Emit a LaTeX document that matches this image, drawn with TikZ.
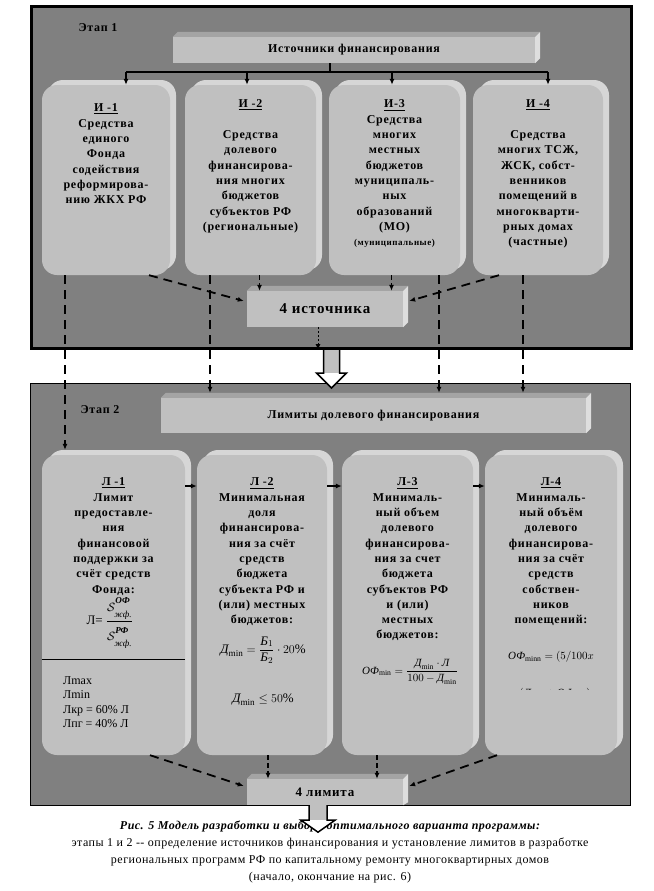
\documentclass[tikz,border=0pt]{standalone}
\usepackage{amsmath,amssymb}
\usepackage{fontspec}
\setmainfont{Liberation Serif}
\newfontfamily\boxfont[LetterSpace=6]{Liberation Serif}
\newfontfamily\capfont[LetterSpace=4]{Liberation Serif}
\usepackage{tikz}
\usetikzlibrary{arrows.meta,positioning,calc}

\definecolor{panelgray}{HTML}{808080}
\definecolor{facegray}{HTML}{C0C0C0}
\definecolor{rimgray}{HTML}{D6D6D6}
\definecolor{topgray}{HTML}{A4A4A4}
\definecolor{sidegray}{HTML}{DEDEDE}

\tikzset{
  stagepanel/.style={draw=black,fill=panelgray,inner sep=0pt,anchor=north west,minimum width=600pt},
  stagelabel/.style={font=\boxfont\bfseries\fontsize{12}{14}\selectfont,inner sep=0pt},
  roundbox/.style={rectangle,rounded corners=15pt,fill=facegray,inner sep=0pt,minimum height=190pt,
    preaction={fill=rimgray,transform canvas={xshift=6pt,yshift=5pt}}},
  flatbox/.style={rectangle,fill=facegray,inner sep=0pt},
  boxtext/.style={font=\boxfont\bfseries\fontsize{12}{15.3}\selectfont,align=center,inner sep=0pt},
  formtext/.style={font=\fontsize{13}{15}\selectfont,inner sep=0pt},
  lowtext/.style={font=\fontsize{12}{14.5}\selectfont,align=left,inner sep=0pt},
  captext/.style={font=\capfont\fontsize{12}{17}\selectfont,align=center,inner sep=0pt},
  forkline/.style={line width=2pt},
  dasharrow/.style={line width=1.8pt,dash pattern=on 9pt off 6pt,->},
  shortarrow/.style={line width=1.5pt,dash pattern=on 5pt off 3pt,->},
  dotarrow/.style={line width=1pt,dash pattern=on 2pt off 2pt,->},
  linkarrow/.style={line width=1.5pt,->}
}

\begin{document}
\begin{tikzpicture}[x=1pt,y=-1pt,>={Latex[length=6pt,width=5pt]}]
  \useasboundingbox (0,0) rectangle (653,891);

  % stage panels
  \node[stagepanel,line width=3pt,minimum height=342pt] (st1) at (30,5) {};
  \node[stagepanel,line width=1.2pt,minimum height=422pt] (st2) at (30,383) {};
  \node[stagelabel] (et1) at (98,28) {Этап 1};
  \node[stagelabel] (et2) at (100,410) {Этап 2};

  % stage 1: sources
  \node[flatbox,minimum width=362pt,minimum height=26pt,
        font=\boxfont\bfseries\fontsize{12}{14}\selectfont] (src) at (354,50) {Источники финансирования};

  \node[roundbox,minimum width=128pt] (i1) at (106,180) {};
  \node[roundbox,minimum width=131pt] (i2) at (250.5,180) {};
  \node[roundbox,minimum width=131pt] (i3) at (394.5,180) {};
  \node[roundbox,minimum width=130pt] (i4) at (538,180) {};

  \node[boxtext,below=19pt of i1.north] (i1t) {\underline{И -1}\\Средства\\единого\\Фонда\\содействия\\реформирова-\\нию ЖКХ РФ};
  \node[boxtext,below=15pt of i2.north] (i2t) {\underline{И -2}\\[15.3pt]Средства\\долевого\\финансирова-\\ния многих\\бюджетов\\субъектов РФ\\(региональные)};
  \node[boxtext,below=15pt of i3.north] (i3t) {\underline{И-3}\\Средства\\многих\\местных\\бюджетов\\муниципаль-\\ных\\образований\\(МО)\\{\fontsize{9}{12}\selectfont(муниципальные)}};
  \node[boxtext,below=15pt of i4.north] (i4t) {\underline{И -4}\\[15.3pt]Средства\\многих ТСЖ,\\ЖСК, собст-\\венников\\помещений в\\многокварти-\\рных домах\\(частные)};

  \node[flatbox,minimum width=156pt,minimum height=36pt,
        font=\boxfont\bfseries\fontsize{15}{18}\selectfont] (fsrc) at (325,309) {4 источника};

  % stage 2: limits
  \node[flatbox,minimum width=425pt,minimum height=35pt,
        font=\boxfont\bfseries\fontsize{12}{14}\selectfont] (lim) at (373.5,415.5) {Лимиты долевого финансирования};

  \node[roundbox,minimum width=143pt,minimum height=300pt] (l1) at (113.5,605) {};
  \node[roundbox,minimum width=130pt,minimum height=300pt] (l2) at (262,605) {};
  \node[roundbox,minimum width=131pt,minimum height=300pt] (l3) at (407.5,605) {};
  \node[roundbox,minimum width=132pt,minimum height=300pt] (l4) at (551,605) {};

  \node[boxtext,below=23pt of l1.north] (l1t) {\underline{Л -1}\\Лимит\\предоставле-\\ния\\финансовой\\поддержки за\\счёт средств\\Фонда:};
  \node[boxtext,below=23pt of l2.north] (l2t) {\underline{Л -2}\\Минимальная\\доля\\финансирова-\\ния за счёт\\средств\\бюджета\\субъекта РФ и\\(или) местных\\бюджетов:};
  \node[boxtext,below=23pt of l3.north] (l3t) {\underline{Л-3}\\Минималь-\\ный объем\\долевого\\финансирова-\\ния за счет\\бюджета\\субъектов РФ\\и (или)\\местных\\бюджетов:};
  \node[boxtext,below=23pt of l4.north] (l4t) {\underline{Л-4}\\Минималь-\\ный объём\\долевого\\финансирова-\\ния за счёт\\средств\\собствен-\\ников\\помещений:};

  % formulas
  \node[formtext] (fl1) at (110,623) {Л=\ $\dfrac{\mathcal{S}^{\text{\raisebox{4pt}{\bfseries\itshape ОФ}}}_{\text{\raisebox{-3pt}{\itshape жф.}}}\rule[-8pt]{0pt}{8pt}}{\rule{0pt}{17pt}\mathcal{S}^{\text{\raisebox{4pt}{\bfseries\itshape РФ}}}_{\text{\raisebox{-3pt}{\itshape жф.}}}}$};
  \draw[line width=0.8pt] ([yshift=-54pt]l1.west) -- ([yshift=-54pt]l1.east);
  \node[lowtext,anchor=north west] (l1low) at (63,676) {Лmax\\Лmin\\Лкр = 60\% Л\\Лпг = 40\% Л};
  \node[formtext] (fl2a) at (263,650) {$\text{\itshape Д}_{\text{min}}=\dfrac{\text{\itshape Б}_1}{\text{\itshape Б}_2}\cdot 20\%$};
  \node[formtext] (fl2b) at (263,700) {$\text{\itshape Д}_{\text{min}}\le 50\%$};
  \node[formtext,font=\fontsize{11}{13}\selectfont] (fl3) at (410,672) {$\text{\itshape ОФ}_{\text{min}}=\dfrac{\text{\itshape Д}_{\text{min}}\cdot\text{\itshape Л}}{100-\text{\itshape Д}_{\text{min}}}$};
  \node[formtext,font=\fontsize{11}{13}\selectfont,anchor=west] (fl4a) at (508,657) {$\text{\itshape ОФ}_{\text{minn}}=(5/100x$};
  \begin{scope}
    \clip (495,640) rectangle (620,689);
    \node[formtext,font=\fontsize{11}{13}\selectfont] (fl4b) at (555,694) {$(\text{\itshape Л}_{\text{min}}+\text{\itshape ОФ}_{\text{min}})$};
  \end{scope}

  % bevels of the flat boxes
  \foreach \b in {src,fsrc,lim} {
    \fill[topgray] (\b.north west) -- ([shift={(5,-5)}]\b.north west) -- ([shift={(5,-5)}]\b.north east) -- (\b.north east) -- cycle;
    \fill[sidegray] (\b.north east) -- ([shift={(5,-5)}]\b.north east) -- ([shift={(5,-5)}]\b.south east) -- (\b.south east) -- cycle;
  }

  % fork from the sources bar
  \coordinate (a1) at ([xshift=20pt]i1.north);
  \coordinate (a2) at ([xshift=-3.5pt]i2.north);
  \coordinate (a3) at ([xshift=-2.5pt]i3.north);
  \coordinate (a4) at ([xshift=10pt]i4.north);
  \draw[forkline] ([xshift=-24pt]src.south) -- ++(0,9) coordinate (fork);
  \draw[forkline] (fork -| a1) -- (fork -| a4);
  \foreach \a in {a1,a2,a3,a4}
    \draw[forkline,->] (fork -| \a) -- (\a);

  % into 4 sources
  \draw[dasharrow] ([xshift=43pt]i1.south) -- ([xshift=-3pt,yshift=8pt]fsrc.west);
  \draw[shortarrow] ([xshift=9pt]i2.south) -- ([xshift=9pt]i2.south |- fsrc.north);
  \draw[shortarrow] ([xshift=-3pt]i3.south) -- ([xshift=-3pt]i3.south |- fsrc.north);
  \draw[dasharrow] ([xshift=-39pt]i4.south) -- ([xshift=6pt,yshift=8pt]fsrc.east);
  \draw[dotarrow] ([xshift=-7pt]fsrc.south) -- ([xshift=-7pt]fsrc.south |- st1.south);

  % sources down to the limits
  \coordinate (limtop) at ([yshift=5pt]lim.north);
  \coordinate (l1top) at ([yshift=5pt]l1.north);
  \draw[dasharrow] ([xshift=-41pt]i1.south) -- ([xshift=-41pt]i1.south |- l1top);
  \draw[dasharrow] ([xshift=-40.5pt]i2.south) -- ([xshift=-40.5pt]i2.south |- limtop);
  \draw[dasharrow] ([xshift=44.5pt]i3.south) -- ([xshift=44.5pt]i3.south |- limtop);
  \draw[dasharrow] ([xshift=-15pt]i4.south) -- ([xshift=-15pt]i4.south |- limtop);

  % links between the limit boxes
  \foreach \p/\q in {l1/l2,l2/l3,l3/l4}
    \draw[linkarrow] ([yshift=119pt]\p.east) -- ([yshift=119pt]\q.west);

  % 4 limits
  \node[flatbox,minimum width=156pt,minimum height=26pt,
        font=\boxfont\bfseries\fontsize{13}{15}\selectfont] (flim) at (325,792) {4 лимита};
  \fill[topgray] (flim.north west) -- ([shift={(5,-5)}]flim.north west) -- ([shift={(5,-5)}]flim.north east) -- (flim.north east) -- cycle;
  \fill[sidegray] (flim.north east) -- ([shift={(5,-5)}]flim.north east) -- ([shift={(5,-3)}]flim.south east) -- (flim.south east) -- cycle;

  \draw[dasharrow] ([xshift=36.5pt]l1.south) -- ([xshift=-3pt,yshift=6pt]flim.west);
  \draw[shortarrow] ([xshift=6pt]l2.south) -- ([xshift=6pt]l2.south |- flim.north);
  \draw[shortarrow] ([xshift=-30.5pt]l3.south) -- ([xshift=-30.5pt]l3.south |- flim.north);
  \draw[dasharrow] ([xshift=-54pt]l4.south) -- ([xshift=6pt,yshift=6pt]flim.east);

  % big arrow between the stages
  \coordinate (ha1) at (st1.south);
  \fill[white] (ha1) ++(-15,23) -- ++(15,15) -- ++(15,-15) -- cycle;
  \fill[facegray] (ha1) ++(-8,0) rectangle ++(16,23);
  \draw[line width=1.5pt] (ha1) ++(-8,0) -- ++(0,23) -- ++(-7,0) -- ++(15,15) -- ++(15,-15) -- ++(-7,0) -- ++(0,-23);

  % caption
  \node[captext,anchor=north] (cap) at (330,821) {{\bfseries\itshape Рис. 5 Модель разработки и выбора оптимального варианта программы:}\\
    этапы 1 и 2 -- определение источников финансирования и установление лимитов в разработке\\
    региональных программ РФ по капитальному ремонту многоквартирных домов\\
    (начало, окончание на рис. 6)};

  % arrow out of stage 2
  \coordinate (ha2) at ([xshift=-7pt]flim.south);
  \fill[white] (ha2) ++(-17,15) -- ++(17,12) -- ++(17,-12) -- cycle;
  \fill[facegray] (ha2) ++(-9,0) rectangle ++(18,15);
  \draw[line width=1.5pt] (ha2) ++(-9,0) -- ++(0,15) -- ++(-8,0) -- ++(17,12) -- ++(17,-12) -- ++(-8,0) -- ++(0,-15);
\end{tikzpicture}
\end{document}
